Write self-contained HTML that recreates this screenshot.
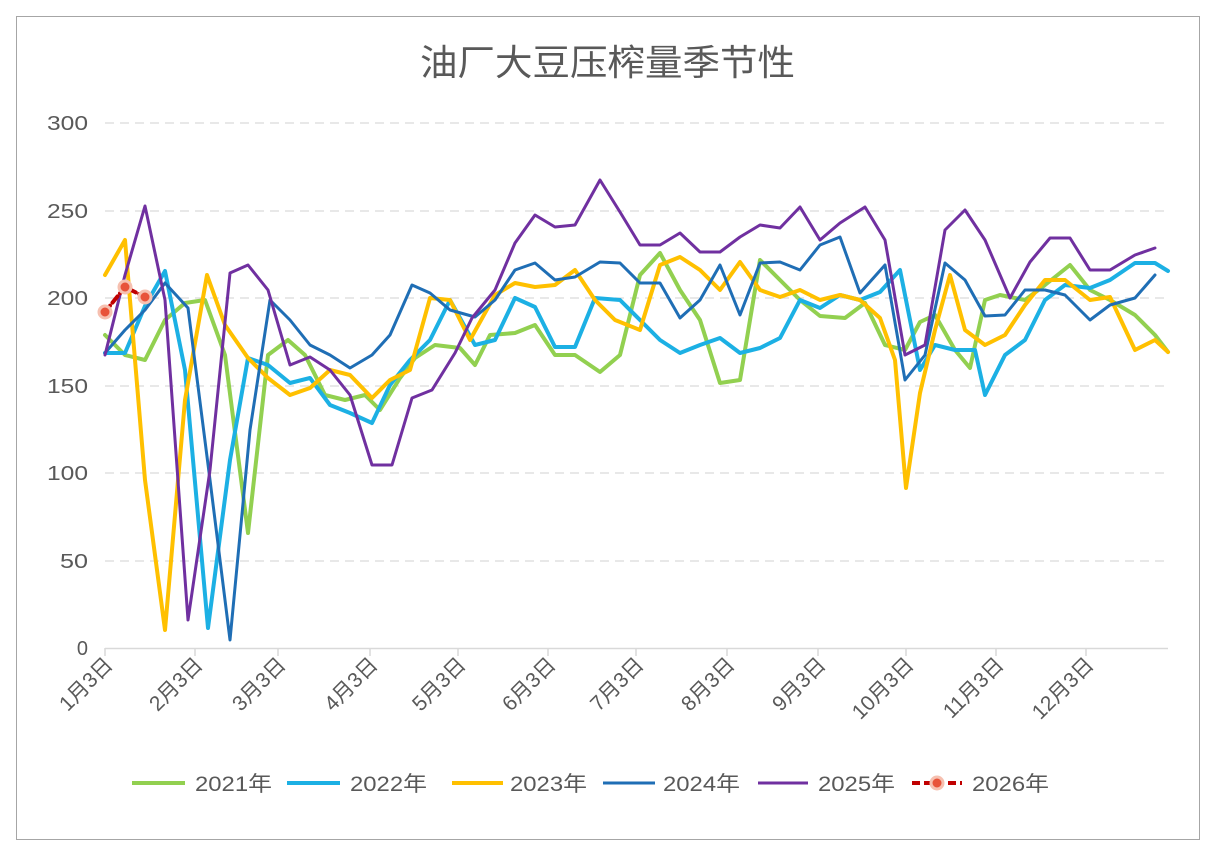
<!DOCTYPE html>
<html><head><meta charset="utf-8"><style>
body{margin:0;background:#fff;}
svg text{font-family:"Liberation Sans","Noto Sans CJK SC",sans-serif;fill:#595959;}
</style></head><body>
<svg width="1210" height="848" xmlns="http://www.w3.org/2000/svg">
<rect x="0" y="0" width="1210" height="848" fill="#fff"/>
<rect x="16.5" y="16.5" width="1183" height="823" fill="#fff" stroke="#a6a6a6"/>
<text x="420" y="75" font-size="36" textLength="375" lengthAdjust="spacingAndGlyphs">油厂大豆压榨量季节性</text>
<g stroke="#d9d9d9" stroke-width="1.2" stroke-dasharray="9,6">
<line x1="105" y1="123" x2="1168" y2="123"/><line x1="105" y1="211" x2="1168" y2="211"/>
<line x1="105" y1="298" x2="1168" y2="298"/><line x1="105" y1="386" x2="1168" y2="386"/>
<line x1="105" y1="473" x2="1168" y2="473"/><line x1="105" y1="561" x2="1168" y2="561"/>
</g>
<line x1="105" y1="648.5" x2="1168" y2="648.5" stroke="#d9d9d9" stroke-width="1.5"/>
<g stroke="#d9d9d9" stroke-width="1.5">
<line x1="105" y1="648" x2="105" y2="656"/><line x1="195" y1="648" x2="195" y2="656"/><line x1="278" y1="648" x2="278" y2="656"/>
<line x1="370" y1="648" x2="370" y2="656"/><line x1="458" y1="648" x2="458" y2="656"/><line x1="548" y1="648" x2="548" y2="656"/>
<line x1="636" y1="648" x2="636" y2="656"/><line x1="727" y1="648" x2="727" y2="656"/><line x1="818" y1="648" x2="818" y2="656"/>
<line x1="906" y1="648" x2="906" y2="656"/><line x1="996" y1="648" x2="996" y2="656"/><line x1="1086" y1="648" x2="1086" y2="656"/>
</g>
<g font-size="20" text-anchor="end">
<text x="88" y="130" textLength="41" lengthAdjust="spacingAndGlyphs">300</text><text x="88" y="218" textLength="41" lengthAdjust="spacingAndGlyphs">250</text><text x="88" y="305" textLength="41" lengthAdjust="spacingAndGlyphs">200</text>
<text x="88" y="393" textLength="41" lengthAdjust="spacingAndGlyphs">150</text><text x="88" y="480" textLength="41" lengthAdjust="spacingAndGlyphs">100</text><text x="88" y="568" textLength="28" lengthAdjust="spacingAndGlyphs">50</text><text x="88" y="655">0</text>
</g>
<g font-size="21" text-anchor="end">
<text transform="translate(114,666) rotate(-45)">1月3日</text>
<text transform="translate(204,666) rotate(-45)">2月3日</text>
<text transform="translate(287,666) rotate(-45)">3月3日</text>
<text transform="translate(379,666) rotate(-45)">4月3日</text>
<text transform="translate(467,666) rotate(-45)">5月3日</text>
<text transform="translate(557,666) rotate(-45)">6月3日</text>
<text transform="translate(645,666) rotate(-45)">7月3日</text>
<text transform="translate(736,666) rotate(-45)">8月3日</text>
<text transform="translate(827,666) rotate(-45)">9月3日</text>
<text transform="translate(915,666) rotate(-45)">10月3日</text>
<text transform="translate(1005,666) rotate(-45)">11月3日</text>
<text transform="translate(1095,666) rotate(-45)">12月3日</text>
</g>
<g fill="none" stroke-linejoin="round" stroke-linecap="round">
<polyline stroke="#92d050" stroke-width="4" points="105,335 125,355 145,360 165,320 185,303 205,300 225,355 248,533 268,355 288,340 305,355 325,395 345,400 365,395 380,410 400,378 415,358 435,345 460,348 475,365 490,335 515,333 535,325 555,355 575,355 600,372 620,355 640,275 660,253 680,290 700,320 720,383 740,380 760,260 780,280 800,300 820,316 845,318 865,303 885,345 905,350 920,322 935,315 955,350 970,368 985,300 1000,295 1025,300 1045,285 1070,265 1090,290 1110,300 1135,315 1155,335 1168,352"/>
<polyline stroke="#1cb0e4" stroke-width="4" points="105,353 125,353 145,306 165,271 185,370 208,628 230,460 248,358 268,365 290,383 310,378 330,405 350,413 372,423 390,385 410,360 430,340 450,300 475,345 495,340 515,298 535,307 555,347 575,347 595,298 620,300 640,320 660,340 680,353 700,345 720,338 740,353 760,348 780,338 800,300 820,308 840,295 860,300 880,292 900,270 920,370 935,345 955,350 975,350 985,395 1005,355 1025,340 1045,300 1065,285 1090,288 1110,280 1135,263 1155,263 1168,271"/>
<polyline stroke="#ffc000" stroke-width="4" points="105,275 125,240 145,480 165,630 185,400 207,275 225,325 248,358 268,378 290,395 310,388 330,370 350,375 372,398 390,380 410,370 430,298 450,300 470,340 495,295 515,283 535,287 555,285 575,270 595,300 615,320 640,330 660,265 680,257 700,270 720,290 740,262 760,290 780,297 800,290 820,300 840,295 860,300 880,318 895,360 906,488 920,393 935,330 950,275 965,330 985,345 1005,335 1025,305 1045,280 1065,280 1090,300 1110,297 1135,350 1155,340 1168,352"/>
<polyline stroke="#1f6eb5" stroke-width="3" points="105,353 125,330 145,310 165,283 188,308 210,480 230,640 250,430 270,300 290,320 310,345 330,355 350,368 372,355 390,335 412,285 430,293 450,310 475,317 495,300 515,270 535,263 555,280 575,277 600,262 620,263 640,283 660,283 680,318 700,300 720,265 740,315 760,263 780,262 800,270 820,245 840,237 860,293 885,265 905,380 925,355 945,263 965,280 985,316 1005,315 1025,290 1045,290 1065,295 1090,320 1110,305 1135,298 1155,275"/>
<polyline stroke="#7030a0" stroke-width="3" points="105,355 125,275 145,206 165,300 188,620 210,470 230,273 248,265 268,290 290,365 310,357 330,370 350,395 372,465 392,465 412,398 432,390 455,353 472,318 495,290 515,243 535,215 555,227 575,225 600,180 620,212 640,245 660,245 680,233 700,252 720,252 740,237 760,225 780,228 800,207 820,240 840,223 865,207 885,240 905,355 925,345 945,230 965,210 985,240 1010,298 1030,262 1050,238 1070,238 1090,270 1110,270 1135,255 1155,248"/>
<polyline stroke="#c00000" stroke-width="4" stroke-dasharray="8,4" points="105,312 125,287 145,297"/>
</g>
<g fill="#e8533a" stroke="#f6c0b0" stroke-width="3">
<circle cx="105" cy="312" r="6"/><circle cx="125" cy="287" r="6"/><circle cx="145" cy="297" r="6"/>
</g>
<g stroke-width="4" fill="none">
<line x1="132" y1="783" x2="185" y2="783" stroke="#92d050"/>
<line x1="287" y1="783" x2="340" y2="783" stroke="#1cb0e4"/>
<line x1="452" y1="783" x2="503" y2="783" stroke="#ffc000"/>
<line x1="603" y1="783" x2="655" y2="783" stroke="#1f6eb5" stroke-width="3"/>
<line x1="758" y1="783" x2="808" y2="783" stroke="#7030a0" stroke-width="3"/>
<line x1="912" y1="783" x2="962" y2="783" stroke="#c00000" stroke-dasharray="8,4"/>
</g>
<circle cx="937" cy="783" r="6" fill="#e8533a" stroke="#f6c0b0" stroke-width="3"/>
<g font-size="21">
<text x="195" y="791" textLength="77" lengthAdjust="spacingAndGlyphs">2021年</text><text x="350" y="791" textLength="77" lengthAdjust="spacingAndGlyphs">2022年</text><text x="510" y="791" textLength="77" lengthAdjust="spacingAndGlyphs">2023年</text>
<text x="663" y="791" textLength="77" lengthAdjust="spacingAndGlyphs">2024年</text><text x="818" y="791" textLength="77" lengthAdjust="spacingAndGlyphs">2025年</text><text x="972" y="791" textLength="77" lengthAdjust="spacingAndGlyphs">2026年</text>
</g>
</svg>
</body></html>
